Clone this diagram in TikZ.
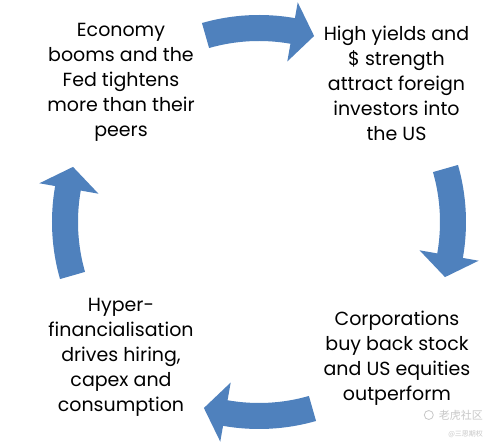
\documentclass[tikz,border=0pt]{standalone}
\usepackage{fontspec}
\setmainfont{Poppins}
\newfontfamily\cjkfont{Noto Sans CJK SC}
\usepackage{xcolor}
\definecolor{cycleblue}{HTML}{4F81BD}
\definecolor{markgray}{HTML}{C8C8C8}
\usetikzlibrary{positioning}

% curved block arrow on the cycle, #1 = angle of its tail
\newcommand{\cyclearrow}[1]{%
  \fill[cycleblue] (#1:181) arc[start angle=#1, end angle=#1-26, radius=181]
    -- (#1-26:163) -- (#1-32.5:194) -- (#1-26:223) -- (#1-26:207)
    arc[start angle=#1-26, end angle=#1, radius=207] -- cycle;}

\begin{document}
\begin{tikzpicture}[x=1pt,y=1pt,
  stagetext/.style={align=center,inner sep=0pt,font=\fontsize{19}{25}\selectfont},
  marktext/.style={text=markgray,inner sep=0pt}]
\useasboundingbox[fill=white] (-259,-224) rectangle (237,222);
\foreach \a in {106,16,-74,-164} {\cyclearrow{\a}}
\node[stagetext] (boom) at (-138,140) {Economy\\booms and the\\Fed tightens\\more than their\\peers};
\node[stagetext] (yields) at (137.5,139) {High yields and\\\$ strength\\attract foreign\\investors into\\the US};
\node[stagetext] (buyback) at (138,-136) {Corporations\\buy back stock\\and US equities\\outperform};
\node[stagetext] (hyper) at (-138,-135) {Hyper-\\financialisation\\drives hiring,\\capex and\\consumption};
% watermark
\node[marktext,font=\cjkfont\fontsize{11}{11}\selectfont] (mark) at (202,-193) {老虎社区};
\draw[markgray,line width=0.8pt] ([xshift=-10pt]mark.west) circle[radius=4.5];
\node[marktext,font=\cjkfont\fontsize{7}{7}\selectfont,anchor=east] (markid) at ([yshift=-19pt]mark.east) {@三思期权};
\end{tikzpicture}
\end{document}
